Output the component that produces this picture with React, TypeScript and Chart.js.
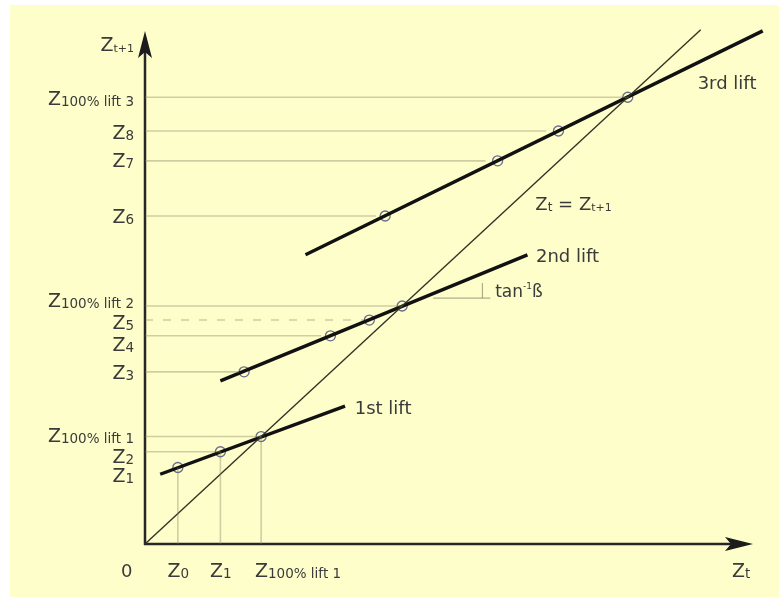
import React, { useEffect, useRef } from 'react';
import { Chart, registerables } from 'chart.js';
Chart.register(...registerables);

// ---- data (chart units: x = Z_t, y = Z_t+1) ----
const X_MAX = 100;
const Y_MAX = 91;

const diagonal = [{ x: 0, y: 0 }, { x: 91.4, y: 91.4 }];

const lift1Line = [{ x: 2.5, y: 12.4 }, { x: 32.9, y: 24.5 }];
const lift1Points = [{ x: 5.4, y: 13.6 }, { x: 12.4, y: 16.4 }, { x: 19.1, y: 19.1 }];

const lift2Line = [{ x: 12.4, y: 29.0 }, { x: 62.9, y: 51.4 }];
const lift2Points = [{ x: 16.3, y: 30.6 }, { x: 30.5, y: 37.0 }, { x: 36.9, y: 39.8 }, { x: 42.3, y: 42.3 }];

const lift3Line = [{ x: 26.4, y: 51.4 }, { x: 101.6, y: 91.2 }];
const lift3Points = [{ x: 39.5, y: 58.3 }, { x: 58.0, y: 68.1 }, { x: 68.0, y: 73.4 }, { x: 79.4, y: 79.4 }];

// horizontal guides: [y, x end]
const guideH = [
  [79.4, 79.4], [73.4, 66], [68.1, 56], [58.3, 38], [42.3, 42.3],
  [37.0, 29], [30.6, 15.5], [19.1, 19.1], [16.4, 12.4],
];
const guideDashed = [[39.8, 36]];
// vertical guides: [x, y end]
const guideV = [[5.4, 13.6], [12.4, 16.4], [19.1, 19.1]];
// angle marker (tan^-1 beta)
const angleH = [{ x: 47.4, y: 43.7 }, { x: 56.8, y: 43.7 }];
const angleV = [{ x: 55.5, y: 43.7 }, { x: 55.5, y: 46.4 }];

// tick labels
const yLabelSubs = ['t+1', '100% lift 3', '8', '7', '6', '100% lift 2', '5', '4', '3', '100% lift 1', '2', '1'];
const yLabelValues = [88.9, 79.3, 73.2, 68.2, 58.3, 43.4, 39.5, 35.5, 30.6, 19.4, 15.6, 12.2];
const xLabelSubs = ['0', '1', '100% lift 1'];
const xLabelValues = [4.7, 11.7, 19.1];

// annotations: [text kind, x, y]
const lift1Label = { text: '1st lift', x: 34.5, y: 24.2 };
const lift2Label = { text: '2nd lift', x: 64.3, y: 51.2 };
const lift3Label = { text: '3rd lift', x: 90.9, y: 82.1 };
const diagLabel = { x: 64.2, y: 60.6 };
const tanLabel = { x: 57.6, y: 45.0 };

const FONT = "'DejaVu Sans', 'Liberation Sans', sans-serif";
const TEXT = '#3a3a3a';

type Seg = { t: string; size: number; dy?: number };

function measure(ctx: CanvasRenderingContext2D, segs: Seg[]) {
  return segs.map((s) => {
    ctx.font = `${s.size}px ${FONT}`;
    return ctx.measureText(s.t).width;
  });
}

function drawSegs(ctx: CanvasRenderingContext2D, segs: Seg[], startX: number, baseY: number) {
  const w = measure(ctx, segs);
  let cx = startX;
  segs.forEach((s, i) => {
    ctx.font = `${s.size}px ${FONT}`;
    ctx.fillText(s.t, cx, baseY + (s.dy || 0));
    cx += w[i];
  });
}

function totalWidth(ctx: CanvasRenderingContext2D, segs: Seg[]) {
  return measure(ctx, segs).reduce((a, b) => a + b, 0);
}

const zSeg = (sub: string): Seg[] => [
  { t: 'Z', size: 19 },
  { t: sub, size: sub === 't+1' ? 11 : 13.5, dy: 1 },
];

const decor = {
  id: 'decor',
  beforeDraw(chart: any) {
    const ctx = chart.ctx as CanvasRenderingContext2D;
    ctx.save();
    ctx.fillStyle = '#ffffff';
    ctx.fillRect(0, 0, chart.width, chart.height);
    ctx.fillStyle = '#FEFECB';
    ctx.fillRect(10, 5, chart.width - 10, chart.height - 7);
    ctx.restore();
  },
  beforeDatasetsDraw(chart: any) {
    const ctx = chart.ctx as CanvasRenderingContext2D;
    const xs = chart.scales.x;
    const ys = chart.scales.y;
    const x0 = xs.getPixelForValue(0);
    const y0 = ys.getPixelForValue(0);
    const yTop = ys.getPixelForValue(Y_MAX);
    const xRight = xs.getPixelForValue(X_MAX);
    ctx.save();
    ctx.strokeStyle = '#262626';
    ctx.fillStyle = '#1c1c1c';
    ctx.lineWidth = 2.5;
    ctx.beginPath();
    ctx.moveTo(x0, y0 + 1);
    ctx.lineTo(x0, yTop + 20);
    ctx.moveTo(x0 - 1, y0);
    ctx.lineTo(xRight - 22, y0);
    ctx.stroke();
    // y arrow
    ctx.beginPath();
    ctx.moveTo(x0, yTop - 1);
    ctx.lineTo(x0 + 7, yTop + 26);
    ctx.lineTo(x0, yTop + 20);
    ctx.lineTo(x0 - 7, yTop + 26);
    ctx.closePath();
    ctx.fill();
    // x arrow
    ctx.beginPath();
    ctx.moveTo(xRight, y0);
    ctx.lineTo(xRight - 28, y0 - 7);
    ctx.lineTo(xRight - 22, y0);
    ctx.lineTo(xRight - 28, y0 + 7);
    ctx.closePath();
    ctx.fill();
    ctx.restore();
  },
  afterDatasetsDraw(chart: any) {
    const ctx = chart.ctx as CanvasRenderingContext2D;
    const xs = chart.scales.x;
    const ys = chart.scales.y;
    const x0 = xs.getPixelForValue(0);
    const y0 = ys.getPixelForValue(0);
    ctx.save();
    ctx.fillStyle = TEXT;
    ctx.textBaseline = 'alphabetic';
    const cap = 7;

    // y labels (right aligned)
    yLabelSubs.forEach((sub, i) => {
      const segs = zSeg(sub);
      const w = totalWidth(ctx, segs);
      const py = ys.getPixelForValue(yLabelValues[i]);
      drawSegs(ctx, segs, x0 - 11 - w, py + cap);
    });

    // x labels
    const xBase = y0 + 33;
    ctx.font = `18px ${FONT}`;
    const zW = ctx.measureText('Z').width;
    drawSegs(ctx, [{ t: '0', size: 18 }], x0 - 24, xBase);
    xLabelSubs.forEach((sub, i) => {
      const px = xs.getPixelForValue(xLabelValues[i]);
      drawSegs(ctx, zSeg(sub), px - zW / 2, xBase);
    });
    // Zt at end of x axis
    drawSegs(ctx, zSeg('t'), xs.getPixelForValue(97.9) - zW / 2 - 2, xBase);

    // line labels
    [lift1Label, lift2Label, lift3Label].forEach((l) => {
      drawSegs(ctx, [{ t: l.text, size: 18 }], xs.getPixelForValue(l.x), ys.getPixelForValue(l.y) + 6.5);
    });
    drawSegs(
      ctx,
      [
        { t: 'Z', size: 18 },
        { t: 't', size: 12, dy: 1 },
        { t: ' = ', size: 18 },
        { t: 'Z', size: 18 },
        { t: 't+1', size: 11, dy: 1 },
      ],
      xs.getPixelForValue(diagLabel.x),
      ys.getPixelForValue(diagLabel.y) + 6.5
    );
    drawSegs(
      ctx,
      [
        { t: 'tan', size: 17 },
        { t: '-1', size: 9, dy: -8 },
        { t: 'ß', size: 17 },
      ],
      xs.getPixelForValue(tanLabel.x),
      ys.getPixelForValue(tanLabel.y) + 6
    );
    ctx.restore();
  },
};

function lineDs(data: any[], color: string, width: number, dash: number[] = []) {
  return {
    data,
    showLine: true,
    borderColor: color,
    borderWidth: width,
    borderDash: dash,
    pointRadius: 0,
    pointHoverRadius: 0,
    fill: false,
    tension: 0,
    clip: false as any,
  };
}

function pointDs(data: any[]) {
  return {
    data,
    showLine: false,
    pointRadius: 5,
    pointHoverRadius: 5,
    pointBorderColor: '#6a6a8c',
    pointBorderWidth: 1.3,
    pointBackgroundColor: 'rgba(0,0,0,0)',
    clip: false as any,
  };
}

const GUIDE = 'rgba(130,130,95,0.38)';

export default function App() {
  const ref = useRef<HTMLCanvasElement | null>(null);
  useEffect(() => {
    if (!ref.current) return;
    const datasets: any[] = [];
    guideH.forEach(([y, xe]) => datasets.push(lineDs([{ x: 0, y }, { x: xe, y }], GUIDE, 1.6)));
    guideDashed.forEach(([y, xe]) => datasets.push(lineDs([{ x: 0, y }, { x: xe, y }], GUIDE, 1.4, [8, 10])));
    guideV.forEach(([x, ye]) => datasets.push(lineDs([{ x, y: 0 }, { x, y: ye }], GUIDE, 1.6)));
    datasets.push(lineDs(angleH, 'rgba(110,110,90,0.55)', 1.2));
    datasets.push(lineDs(angleV, 'rgba(110,110,90,0.55)', 1.2));
    datasets.push(lineDs(diagonal, '#333326', 1.4));
    datasets.push(lineDs(lift1Line, '#111111', 3.4));
    datasets.push(lineDs(lift2Line, '#111111', 3.4));
    datasets.push(lineDs(lift3Line, '#111111', 3.4));
    datasets.push(pointDs(lift1Points));
    datasets.push(pointDs(lift2Points));
    datasets.push(pointDs(lift3Points));

    const chart = new Chart(ref.current, {
      type: 'scatter',
      data: { datasets },
      options: {
        responsive: false,
        animation: false,
        devicePixelRatio: 1,
        events: [],
        layout: { padding: { left: 145, right: 26, top: 32, bottom: 55 } },
        plugins: { legend: { display: false }, tooltip: { enabled: false } },
        scales: {
          x: { type: 'linear', min: 0, max: X_MAX, display: false },
          y: { type: 'linear', min: 0, max: Y_MAX, display: false },
        },
      },
      plugins: [decor],
    } as any);
    return () => chart.destroy();
  }, []);

  return (
    <div style={{ position: 'absolute', left: 0, top: 0, width: 779, height: 599 }}>
      <canvas ref={ref} width={779} height={599} style={{ display: 'block' }} />
    </div>
  );
}
